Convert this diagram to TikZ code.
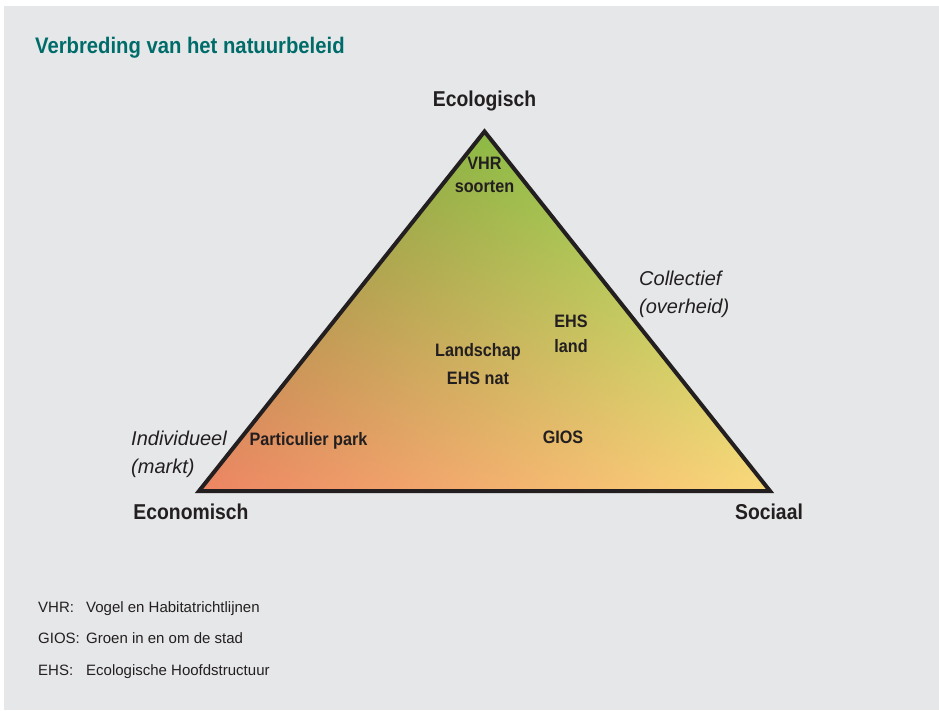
\documentclass[tikz,border=0pt]{standalone}
\usepackage{fontspec}
\setmainfont{Liberation Sans}
\newfontfamily\smalfont[FakeStretch=0.9]{Liberation Sans}
\usetikzlibrary{positioning}
\definecolor{achtergrond}{RGB}{230,231,233}
\definecolor{titelgroen}{RGB}{0,108,106}
\definecolor{donker}{RGB}{35,31,32}
% kleur loopt van links (rood) naar rechts (geel) en naar de top (groen)
\pgfdeclarefunctionalshading{driehoek}{\pgfpoint{0bp}{0bp}}{\pgfpoint{100bp}{100bp}}{}{
  25 sub exch 25 sub exch
  2 copy -0.0081 mul exch 0.001 mul add 0.93 add
  3 1 roll
  2 copy 0.0009 mul exch 0.0066 mul add 0.52 add
  3 1 roll
  -0.0033 mul exch 0.0018 mul add 0.39 add
}
\tikzset{
	titel/.style={
		font=\smalfont\bfseries\fontsize{22.5}{27}\selectfont,
		text=titelgroen, inner sep=0pt, anchor=base west
	},
	hoek/.style={
		font=\smalfont\bfseries\fontsize{21.5}{26}\selectfont,
		text=donker, inner sep=0pt, anchor=base
	},
	beleid/.style={
		font=\smalfont\bfseries\fontsize{18}{23}\selectfont,
		text=donker, inner sep=0pt, align=center
	},
	aslabel/.style={
		font=\itshape\fontsize{20}{28.5}\selectfont,
		text=donker, inner sep=0pt, align=left, anchor=north west
	},
	legenda/.style={
		font=\fontsize{15}{18}\selectfont,
		text=donker, inner sep=0pt, anchor=base west
	},
	rand/.style={draw=donker, line width=4pt, line join=miter}
}

\begin{document}
\begin{tikzpicture}[x=1pt, y=-1pt]
	\useasboundingbox (0,0) rectangle (939,710);
	\fill[achtergrond] (4,6) rectangle (939,710);
	\node[titel] (titel) at (35,53) {Verbreding van het natuurbeleid};
	% hoekpunten van de driehoek
	\coordinate (top) at (484.5,131.5);
	\coordinate (links) at (199,491);
	\coordinate (rechts) at (770,491);
	\shade[shading=driehoek] (top) -- (links) -- (rechts) -- cycle;
	\draw[rand] (top) -- (links) -- (rechts) -- cycle;
	\node[hoek] (ecologisch) at (484.5,106) {Ecologisch};
	\node[hoek] (economisch) at (191,519) {Economisch};
	\node[hoek] (sociaal) at (769,519) {Sociaal};
	\node[aslabel] (individueel) at (131,430.7) {Individueel\\(markt)};
	\node[aslabel] (collectief) at (639,270.7) {Collectief\\(overheid)};
	\node[beleid] (vhr) at (484.5,175) {VHR\\soorten};
	\node[beleid] (ehsland) at (571,334) {EHS\\[2pt]land};
	\node[beleid, anchor=base] (landschap) at (478,356) {Landschap};
	\node[beleid, anchor=base] (ehsnat) at (478,384) {EHS nat};
	\node[beleid, anchor=base] (particulier) at (308.5,445) {Particulier park};
	\node[beleid, anchor=base] (gios) at (563,443) {GIOS};
	% verklaring afkortingen
	\node[legenda] (legvhr) at (38,612) {\makebox[48pt][l]{VHR:}Vogel en Habitatrichtlijnen};
	\node[legenda] (leggios) at (38,643) {\makebox[48pt][l]{GIOS:}Groen in en om de stad};
	\node[legenda] (legehs) at (38,675) {\makebox[48pt][l]{EHS:}Ecologische Hoofdstructuur};
\end{tikzpicture}
\end{document}
